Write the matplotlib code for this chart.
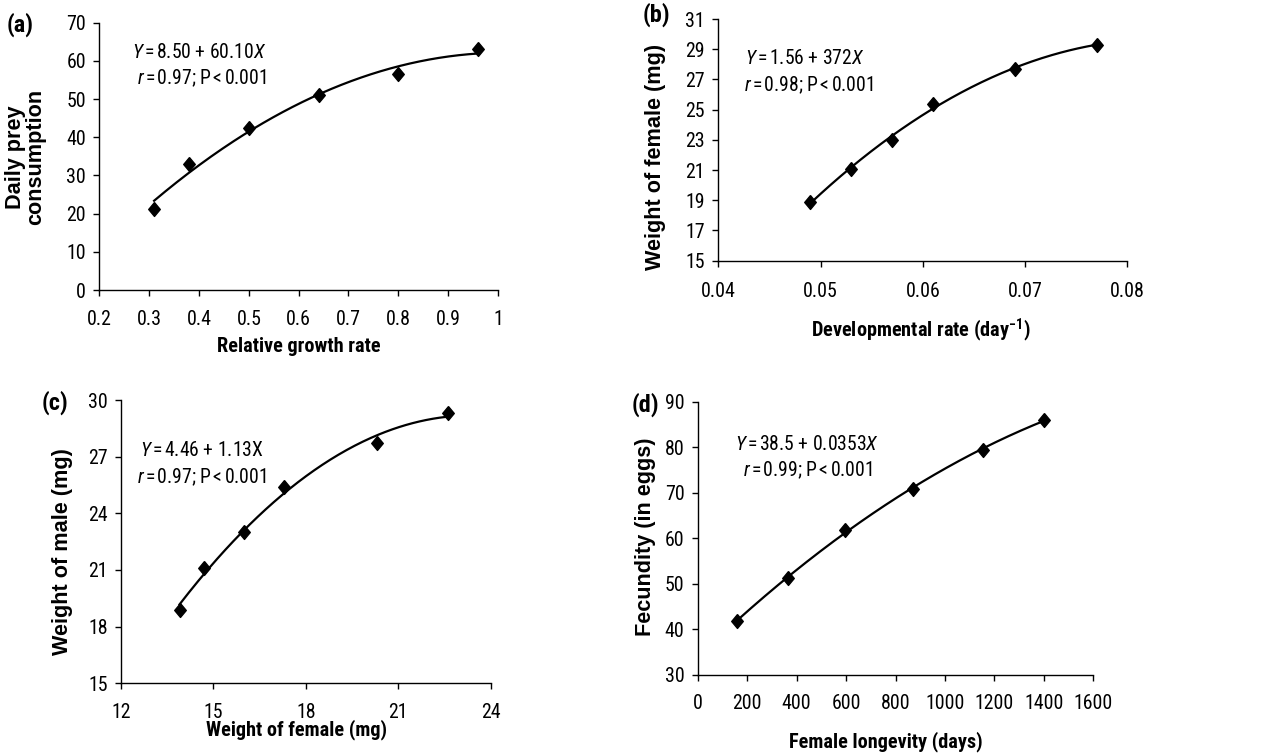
import numpy as np
import matplotlib
matplotlib.use("Agg")
import matplotlib.pyplot as plt
from matplotlib import font_manager

BASE = 'Liberation Sans'
try:
    font_manager.findfont('Roboto Condensed', fallback_to_default=False)
    HFAM = 'Roboto Condensed'
except Exception:
    HFAM = BASE

plt.rcParams['font.family'] = [HFAM, BASE, 'DejaVu Sans']
plt.rcParams['mathtext.fontset'] = 'custom'
plt.rcParams['mathtext.rm'] = HFAM
plt.rcParams['mathtext.it'] = HFAM + ':italic'
plt.rcParams['mathtext.bf'] = HFAM + ':bold'

# ---- data ----
a_x = [0.31, 0.38, 0.50, 0.64, 0.80, 0.96]
a_y = [21.3, 32.9, 42.5, 51.0, 56.6, 63.0]
b_x = [0.049, 0.053, 0.057, 0.061, 0.069, 0.077]
b_y = [18.9, 21.1, 23.0, 25.4, 27.7, 29.3]
c_x = [13.9, 14.7, 16.0, 17.3, 20.3, 22.6]
c_y = [18.9, 21.1, 23.0, 25.4, 27.7, 29.3]
d_x = [160, 365, 595, 870, 1155, 1400]
d_y = [41.9, 51.4, 61.8, 70.8, 79.5, 86.0]

a_xticks = [0.2, 0.3, 0.4, 0.5, 0.6, 0.7, 0.8, 0.9, 1.0]
a_xticklabels = ['0.2', '0.3', '0.4', '0.5', '0.6', '0.7', '0.8', '0.9', '1']
a_yticks = [0, 10, 20, 30, 40, 50, 60, 70]
b_xticks = [0.04, 0.05, 0.06, 0.07, 0.08]
b_xticklabels = ['0.04', '0.05', '0.06', '0.07', '0.08']
b_yticks = [15, 17, 19, 21, 23, 25, 27, 29, 31]
c_xticks = [12, 15, 18, 21, 24]
c_yticks = [15, 18, 21, 24, 27, 30]
d_xticks = [0, 200, 400, 600, 800, 1000, 1200, 1400, 1600]
d_yticks = [30, 40, 50, 60, 70, 80, 90]

W, H = 1263, 755
fig = plt.figure(figsize=(W / 100, H / 100), dpi=100)
renderer = fig.canvas.get_renderer()


def width_ratio(sample, weight='normal'):
    """How much wider BASE is than HFAM for the same size."""
    t1 = fig.text(0, 0, sample, fontsize=20, family=[BASE], fontweight=weight)
    t2 = fig.text(0, 0, sample, fontsize=20, family=[HFAM, BASE], fontweight=weight)
    w1 = t1.get_window_extent(renderer).width
    w2 = t2.get_window_extent(renderer).width
    t1.remove()
    t2.remove()
    return w1 / w2


R_REG = min(width_ratio('0.05 1200 r=0.97; P<0.001'), 1.25)
R_BOLD = min(width_ratio('Relative growth rate (a)', 'bold'), 1.25)

TICK_FS = 12.5 * R_REG
EQ_FS = 12.3 * R_REG
LAB_FS = 12.4 * R_BOLD
TAG_FS = 14.8 * R_BOLD
YLAB_FS = 15.6

DIAMOND = [(0, 1.2), (1, 0), (0, -1.2), (-1, 0), (0, 1.2)]


def fx(px):
    return px / W


def fy(py):
    return 1 - py / H


def make_axes(l, t, r, b):
    return fig.add_axes([fx(l), fy(b), fx(r) - fx(l), (b - t) / H])


TS = r'$\,$'
panels = [
    dict(box=(99.3, 22.7, 498, 290), x=a_x, y=a_y, xt=a_xticks, xtl=a_xticklabels,
         yt=a_yticks, xlim=(0.2, 1.0), ylim=(0, 70),
         xlabel='Relative growth rate', xlab_pos=(299, 347),
         ylabel='Daily prey\nconsumption', ylab_pos=(26, 157),
         eq1=r'$\mathit{Y}$' + TS + '=' + TS + '8.50 + 60.10' + r'$\mathit{X}$', eq1_pos=(132, 52),
         eq2=r'$\mathit{r}$' + TS + '=' + TS + '0.97; P' + TS + '<' + TS + '0.001', eq2_pos=(137, 78),
         tag='(a)', tag_pos=(7, 25), xpad=10.6),
    dict(box=(718.3, 19, 1127.3, 260.7), x=b_x, y=b_y, xt=b_xticks, xtl=b_xticklabels,
         yt=b_yticks, xlim=(0.04, 0.08), ylim=(15, 31),
         xlabel=r'Developmental rate (day$^{\mathbf{-1}}$)', xlab_pos=(921, 330),
         ylabel='Weight of female (mg)', ylab_pos=(655.5, 157),
         eq1=r'$\mathit{Y}$' + TS + '=' + TS + '1.56 + 372' + r'$\mathit{X}$', eq1_pos=(745, 59),
         eq2=r'$\mathit{r}$' + TS + '=' + TS + '0.98; P' + TS + '<' + TS + '0.001', eq2_pos=(744, 85),
         tag='(b)', tag_pos=(643, 15), xpad=11.5),
    dict(box=(121, 400, 490.7, 683.3), x=c_x, y=c_y, xt=c_xticks,
         xtl=[str(v) for v in c_xticks],
         yt=c_yticks, xlim=(12, 24), ylim=(15, 30),
         xlabel='Weight of female (mg)', xlab_pos=(297, 730),
         ylabel='Weight of male (mg)', ylab_pos=(62.5, 552),
         eq1=r'$\mathit{Y}$' + TS + '=' + TS + '4.46 + 1.13X', eq1_pos=(140, 451),
         eq2=r'$\mathit{r}$' + TS + '=' + TS + '0.97; P' + TS + '<' + TS + '0.001', eq2_pos=(137, 477),
         tag='(c)', tag_pos=(42, 403), xpad=10.4),
    dict(box=(697.7, 401.7, 1093.3, 675), x=d_x, y=d_y, xt=d_xticks,
         xtl=[str(v) for v in d_xticks],
         yt=d_yticks, xlim=(0, 1600), ylim=(30, 90),
         xlabel='Female longevity (days)', xlab_pos=(886, 742),
         ylabel='Fecundity (in eggs)', ylab_pos=(645, 537),
         eq1=r'$\mathit{Y}$' + TS + '=' + TS + '38.5 + 0.0353' + r'$\mathit{X}$', eq1_pos=(735, 445),
         eq2=r'$\mathit{r}$' + TS + '=' + TS + '0.99; P' + TS + '<' + TS + '0.001', eq2_pos=(743, 470),
         tag='(d)', tag_pos=(632, 405), xpad=10.2),
]

for p in panels:
    ax = make_axes(*p['box'])
    x = np.array(p['x'])
    y = np.array(p['y'])
    coef = np.polyfit(x, y, 2)
    xs = np.linspace(x.min(), x.max(), 200)
    ax.plot(xs, np.polyval(coef, xs), color='black', lw=1.6, zorder=2)
    ax.plot(x, y, linestyle='none', marker=DIAMOND, markersize=10, color='black', zorder=3)
    ax.set_xlim(*p['xlim'])
    ax.set_ylim(*p['ylim'])
    ax.set_xticks(p['xt'])
    ax.set_xticklabels(p['xtl'])
    ax.set_yticks(p['yt'])
    for s in ('top', 'right'):
        ax.spines[s].set_visible(False)
    for s in ('left', 'bottom'):
        ax.spines[s].set_linewidth(1.0)
    ax.tick_params(axis='both', direction='out', length=4, width=1.0, labelsize=TICK_FS)
    ax.tick_params(axis='x', pad=p['xpad'] - 0.5)
    ax.tick_params(axis='y', pad=5.5)
    ax.set_xlabel(p['xlabel'], fontsize=LAB_FS, fontweight='bold')
    ax.set_ylabel(p['ylabel'], fontsize=YLAB_FS, fontweight='bold', linespacing=0.95,
                  family=[BASE, 'DejaVu Sans'])
    ax.xaxis.label.set_va('center')
    ax.yaxis.label.set_va('center')
    ax.xaxis.set_label_coords(fx(p['xlab_pos'][0]), fy(p['xlab_pos'][1]), transform=fig.transFigure)
    ax.yaxis.set_label_coords(fx(p['ylab_pos'][0]), fy(p['ylab_pos'][1]), transform=fig.transFigure)
    fig.text(fx(p['eq1_pos'][0]), fy(p['eq1_pos'][1]), p['eq1'], fontsize=EQ_FS, va='center', ha='left')
    fig.text(fx(p['eq2_pos'][0]), fy(p['eq2_pos'][1]), p['eq2'], fontsize=EQ_FS, va='center', ha='left')
    fig.text(fx(p['tag_pos'][0]), fy(p['tag_pos'][1]), p['tag'], fontsize=TAG_FS, fontweight='bold',
             va='center', ha='left')

fig.savefig('out.png', dpi=100)
